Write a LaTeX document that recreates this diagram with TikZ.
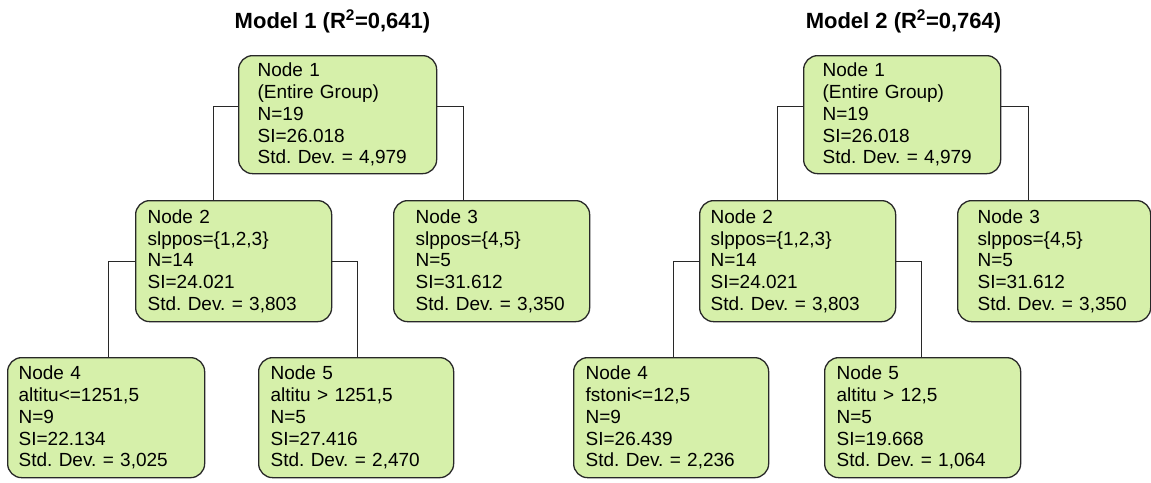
\documentclass[tikz,border=0pt]{standalone}
\usepackage{fontspec}
\setmainfont{Liberation Sans}
\definecolor{leafgreen}{RGB}{214,240,170}
\definecolor{edgegray}{RGB}{40,40,40}
\begin{document}
\begin{tikzpicture}[x=1pt,y=-1pt,
  treebox/.style={draw=edgegray, fill=leafgreen, line width=1.3pt,
    rounded corners=14pt, anchor=north west, align=left, inner ysep=0pt,
    font=\fontsize{19}{21.8}\selectfont\frenchspacing},
  lvlone/.style={minimum height=118pt},
  lvltwo/.style={minimum height=121pt},
  lvlthree/.style={minimum height=120pt},
  link/.style={draw=edgegray, line width=1.2pt},
  heading/.style={font=\fontsize{22}{26}\selectfont\bfseries, anchor=base}]
\useasboundingbox[fill=white] (0,0) rectangle (1151,482);

% ---------- Model 1 ----------
\node[heading] (t1) at (332.5,28) {Model 1 (R\textsuperscript{2}=0,641)};

\node[treebox, lvlone, inner xsep=19pt, text width=160pt] (a1) at (238,55)
  {Node 1\\(Entire Group)\\N=19\\SI=26.018\\Std. Dev. = 4,979};
\node[treebox, lvltwo, inner xsep=12pt, text width=172pt] (a2) at (135,200)
  {Node 2\\slppos=\{1,2,3\}\\N=14\\SI=24.021\\Std. Dev. = 3,803};
\node[treebox, lvltwo, inner xsep=22pt, text width=152pt] (a3) at (393,200)
  {Node 3\\slppos=\{4,5\}\\N=5\\SI=31.612\\Std. Dev. = 3,350};
\node[treebox, lvlthree, inner xsep=11pt, text width=175pt] (a4) at (7,357)
  {Node 4\\altitu<=1251,5\\N=9\\SI=22.134\\Std. Dev. = 3,025};
\node[treebox, lvlthree, inner xsep=12pt, text width=171pt] (a5) at (258,357)
  {Node 5\\altitu > 1251,5\\N=5\\SI=27.416\\Std. Dev. = 2,470};

\draw[link] ([yshift=8pt]a1.west) -| ([xshift=-20pt]a2.north);
\draw[link] ([yshift=8pt]a1.east) -| ([xshift=-28pt]a3.north);
\draw[link] (a2.west) -| ([xshift=2.5pt]a4.north);
\draw[link] (a2.east) -| ([xshift=1.5pt]a5.north);

% ---------- Model 2 ----------
\node[heading] (t2) at (903.5,28) {Model 2 (R\textsuperscript{2}=0,764)};

\node[treebox, lvlone, inner xsep=19pt, text width=159pt] (b1) at (803,55)
  {Node 1\\(Entire Group)\\N=19\\SI=26.018\\Std. Dev. = 4,979};
\node[treebox, lvltwo, inner xsep=11pt, text width=174pt] (b2) at (699,200)
  {Node 2\\slppos=\{1,2,3\}\\N=14\\SI=24.021\\Std. Dev. = 3,803};
\node[treebox, lvltwo, inner xsep=20pt, text width=153pt] (b3) at (957,200)
  {Node 3\\slppos=\{4,5\}\\N=5\\SI=31.612\\Std. Dev. = 3,350};
\node[treebox, lvlthree, inner xsep=12pt, text width=171pt] (b4) at (573,357)
  {Node 4\\fstoni<=12,5\\N=9\\SI=26.439\\Std. Dev. = 2,236};
\node[treebox, lvlthree, inner xsep=12pt, text width=172pt] (b5) at (824,357)
  {Node 5\\altitu > 12,5\\N=5\\SI=19.668\\Std. Dev. = 1,064};

\draw[link] ([yshift=8pt]b1.west) -| ([xshift=-20pt]b2.north);
\draw[link] ([yshift=8pt]b1.east) -| ([xshift=-25.5pt]b3.north);
\draw[link] (b2.west) -| ([xshift=2.5pt]b4.north);
\draw[link] (b2.east) -| ([xshift=-1pt]b5.north);
\end{tikzpicture}
\end{document}
